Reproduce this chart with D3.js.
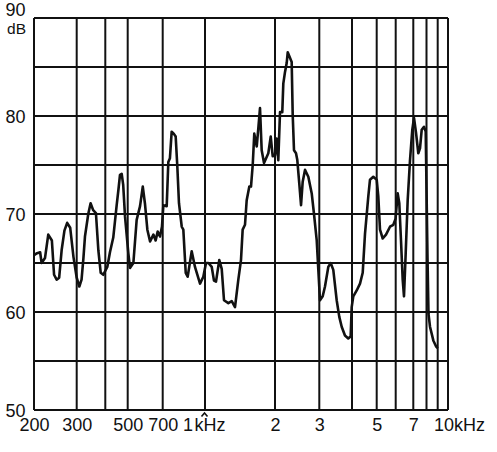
<!DOCTYPE html>
<html><head><meta charset="utf-8">
<script src="https://cdn.jsdelivr.net/npm/d3@7"></script>
<style>
body{margin:0;background:#fff}
svg text{font-family:"Liberation Sans",Arial,sans-serif;fill:#111}
</style>
</head><body>
<svg id="c" width="497" height="452"></svg>
<script>
// Frequency (Hz) of each traced point
const freqs = [200,206,212,215,222,229,237,242,248,254,260,267,274,282,291,
  300,308,315,321,326,337,345,354,364,373,382,392,
  408,419,433,448,456,463,471,478,487,
  503,511,528,545,563,578,590,604,620,640,654,667,682,695,
  704,724,734,744,755,768,781,792,803,822,833,850,864,894,919,959,986,
  1010,1035,1069,1093,1115,1152,1180,1207,1260,1303,1346,1391,1428,1452,1486,1511,1551,1577,1604,1629,1669,1699,1724,1753,1794,1872,1917,1955,
  2000,2028,2061,2094,2138,2158,2192,2226,2247,2330,2352,2380,2424,2453,2498,2538,2577,2632,2713,2799,2858,2930,2972,
  3018,3091,3154,3247,3316,3393,3496,3577,3653,3760,3871,3953,3989,
  4047,4174,4300,4406,4499,4635,4706,4848,5000,
  5077,5161,5297,5467,5681,5864,5990,
  6106,6192,6285,6379,6452,6549,6664,6801,6939,
  7050,7194,7363,7491,7622,7800,7936,8085,8170,8300,8594,8841,9000];
// Level (dB) at each point
const levels = [65.8,66.0,66.1,65.0,65.5,67.9,67.3,63.8,63.3,63.5,66.3,68.3,69.1,68.6,65.6,
  63.5,62.6,63.3,65.5,67.7,70.0,71.1,70.4,70.1,66.3,64.0,63.8,
  64.6,66.1,67.6,70.9,72.5,74.0,74.1,73.0,69.7,
  66.0,64.5,65.0,69.4,70.8,72.8,71.1,68.4,67.2,67.9,67.3,68.2,67.7,68.7,
  70.9,70.8,75.3,75.7,78.4,78.2,77.9,74.8,71.1,68.7,68.4,64.0,63.6,66.2,64.6,62.9,63.6,
  65.0,65.0,64.6,63.2,63.1,65.3,64.4,61.2,60.9,61.1,60.5,63.3,65.3,68.4,68.9,71.4,72.8,72.8,75.0,78.2,76.9,79.0,80.8,76.5,75.2,76.2,77.9,75.9,
  76.0,77.7,75.5,80.4,80.4,83.3,84.5,85.4,86.5,85.5,80.1,76.5,76.2,75.5,73.1,70.9,73.3,74.5,73.8,72.1,70.0,67.3,64.4,
  61.2,61.6,62.6,64.6,65.0,64.3,61.2,59.5,58.5,57.6,57.3,57.5,60.5,
  61.6,62.2,62.9,64.0,68.0,71.8,73.5,73.8,73.5,
  71.8,68.4,67.5,67.9,68.7,68.9,69.5,
  72.1,71.1,67.3,63.3,61.6,66.0,71.4,75.5,78.6,
  79.8,78.3,76.2,76.7,78.6,78.9,78.4,65.5,59.8,58.5,57.1,56.5,56.3];

const gridFreqs = [200,300,400,500,700,1000,2000,3000,4000,5000,6000,7000,8000,9000,10000];
const gridDb = [50,55,60,65,70,75,80,85,90];
const yTicks = [50,60,70,80];
const xTicks = [200,300,500,700,2000,3000,5000,7000];
const xTickLabels = ["200","300","500","700","2","3","5","7"];

(function () {
const svg = d3.select("#c");
const ink = "#111";

// printed log axis (grid lines as measured on the printed paper)
const x = d3.scaleLog()
  .domain(gridFreqs)
  .range([34,76.7,105.3,127.7,162.7,205,275,319.3,352,376.7,395.7,413.3,426.5,437.7,448]);
const y = d3.scaleLinear().domain([50,90]).range([410,18]);

const g = svg.append("g");
g.selectAll("line.h").data(gridDb).join("line")
  .attr("x1", x(200)).attr("x2", x(10000))
  .attr("y1", d => y(d)).attr("y2", d => y(d))
  .attr("stroke", ink).attr("stroke-width", 2);
g.selectAll("line.v").data(gridFreqs).join("line")
  .attr("x1", d => x(d)).attr("x2", d => x(d))
  .attr("y1", y(90)).attr("y2", y(50))
  .attr("stroke", ink).attr("stroke-width", 2);

// curve
const line = d3.line().x((d,i) => x(freqs[i])).y((d,i) => y(levels[i]));
svg.append("path").datum(freqs)
  .attr("d", line).attr("fill","none").attr("stroke", ink)
  .attr("stroke-width", 2.6).attr("stroke-linejoin","round");

// y axis
const ya = svg.append("g").attr("transform", `translate(${x(200)},0)`)
  .call(d3.axisLeft(y).tickValues(yTicks).tickSize(0).tickPadding(8.5));
ya.select(".domain").remove();
ya.selectAll("text").attr("font-size", 18).attr("fill", ink)
  .attr("font-family","Liberation Sans, Arial, sans-serif")
  .attr("dy", "0.34em");
// top label "90" with the unit "dB" beneath it
svg.append("text").attr("x", x(200) - 8.5).attr("y", y(90) - 2)
  .attr("text-anchor","end").attr("font-size", 18).text("90");
svg.append("text").attr("x", x(200) - 8).attr("y", y(90) + 15.8)
  .attr("text-anchor","end").attr("font-size", 15.5).text("dB");

// x axis
const xa = svg.append("g").attr("transform", `translate(0,${y(50)})`)
  .call(d3.axisBottom(x).tickValues(xTicks).tickSize(0).tickPadding(8)
    .tickFormat(d => xTickLabels[xTicks.indexOf(d)]));
xa.select(".domain").remove();
xa.selectAll("text").attr("font-size", 18).attr("fill", ink)
  .attr("font-family","Liberation Sans, Arial, sans-serif");

const yb = y(50) + 20.5;
svg.append("text").attr("x", x(1000) - 17).attr("y", yb)
  .attr("text-anchor","middle").attr("font-size", 18).text("1");
svg.append("text").attr("x", x(1000) - 10.5).attr("y", yb)
  .attr("text-anchor","start").attr("font-size", 18).text("kHz");
svg.append("path")
  .attr("d", `M${x(1000)-3.5},${y(50)+6.5}L${x(1000)-0.5},${y(50)+3}L${x(1000)+2.5},${y(50)+6.5}`)
  .attr("fill","none").attr("stroke", ink).attr("stroke-width", 1.6);
svg.append("text").attr("x", x(10000) - 14).attr("y", yb)
  .attr("text-anchor","start").attr("font-size", 18).text("10kHz");
})();
</script>
</body></html>
